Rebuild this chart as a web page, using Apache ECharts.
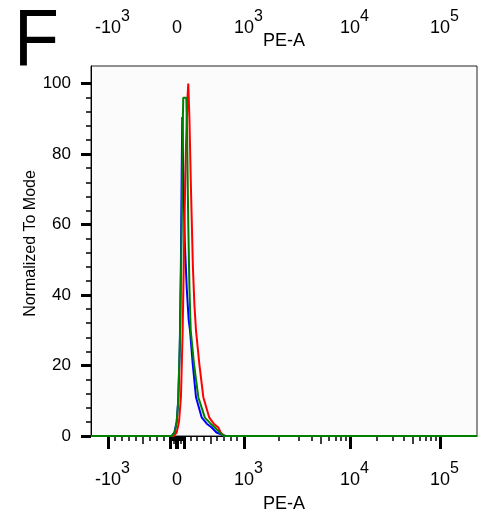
<!DOCTYPE html>
<html>
<head>
<meta charset="utf-8">
<script src="https://cdn.jsdelivr.net/npm/echarts@6/dist/echarts.min.js"></script>
<style>
html,body{margin:0;padding:0;background:#fff;}
#chart{width:478px;height:512px;}
</style>
</head>
<body>
<div id="chart"></div>
<script>
// ---- data (x in display channel units 0..1000 of the biexponential PE-A scale) ----
const blueCh    = [0, 209, 216, 222, 226, 230, 233, 235, 236.5, 239, 243, 248, 253, 256.5, 263.5, 272, 287, 300, 312.7, 325, 340, 350, 1000];
const blueMode  = [0, 0, 1, 4, 10, 25, 50, 75, 90.5, 75, 55, 42, 33, 30, 20.5, 11, 5.2, 3.5, 2.4, 1, 0.3, 0, 0];
const redCh     = [0, 214, 222, 228, 233, 237.5, 242, 246, 250, 252, 255, 259, 264, 268, 272, 280.6, 291, 306.5, 318, 329.8, 336, 345, 1000];
const redMode   = [0, 0, 1, 4, 11, 30, 60, 82, 96, 100, 90, 70, 48, 37, 30, 20.5, 11, 5.2, 3.5, 2.4, 1, 0, 0];
const greenCh   = [0, 209, 217, 222, 226, 231, 235, 238, 239, 247, 249, 252, 255, 258.3, 266.8, 278, 295, 310, 321, 335, 345, 1000];
const greenMode = [0, 0, 1, 4, 10, 30, 60, 90, 96, 96, 85, 60, 42, 30, 20.5, 11, 5.2, 3.5, 2.4, 0.8, 0, 0];

const xTickRaw   = [-1000, 0, 1000, 10000, 100000];
const xTickBase  = ['-10', '0', '10', '10', '10'];
const xTickExp   = ['3', '', '3', '4', '5'];
const yTicks     = [0, 20, 40, 60, 80, 100];
const yMinorTicks = [4, 8, 12, 16, 24, 28, 32, 36, 44, 48, 52, 56, 64, 68, 72, 76, 84, 88, 92, 96];
const axisTitle  = 'PE-A';
const yTitle     = 'Normalized To Mode';
const panelLetter = 'F';

// ---- biexponential display scale: raw PE-A value -> channel units ----
function biex(v) {
  if (v < 0) return 223 + 0.179 * v;
  if (v <= 1000) return 223 + 0.173 * v;
  if (v <= 10000) { const t = Math.log10(v / 1000); return 396 + 314 * t - 39 * t * t; }
  return 671 + 233 * Math.log10(v / 10000);
}

// tick sets
const majorRaw = [-1000, -100, -10, 0, 10, 100, 1000, 10000, 100000];
const midRaw = [], minorRaw = [];
for (const s of [-1, 1]) {
  for (let n = 0; n <= 4; n++) {
    for (let k = 2; k <= 9; k++) {
      const v = s * k * Math.pow(10, n);
      if (v < -1000 || v > 262144) continue;
      if (k === 5) midRaw.push(v); else minorRaw.push(v);
    }
  }
}
const xMajorPos = majorRaw.map(biex);
const xMidPos = midRaw.map(biex);
const xMinorPos = minorRaw.map(biex);
const xLabelPos = xTickRaw.map(biex);

function fmtX(val) {
  let idx = -1, best = 1e9;
  xLabelPos.forEach((p, i) => { const d = Math.abs(p - val); if (d < best) { best = d; idx = i; } });
  if (idx < 0) return '';
  if (!xTickExp[idx]) return '{b|' + xTickBase[idx] + '}';
  return '{sp|}{b|' + xTickBase[idx] + '}{s|' + xTickExp[idx] + '}';
}

const FONT = 'Liberation Sans';
const rich = {
  b: { fontSize: 18, fontFamily: FONT, color: '#000', verticalAlign: 'bottom', lineHeight: 28 },
  s: { fontSize: 16, fontFamily: FONT, color: '#000', verticalAlign: 'top', lineHeight: 28 },
  sp: { width: 9 }
};

const XMIN = 0, XMAX = 1000, YMIN = 0, YMAX = 105;

function baseX(extra) {
  return Object.assign({
    type: 'value', min: XMIN, max: XMAX, position: 'bottom', offset: 0,
    axisLine: { show: false }, splitLine: { show: false },
    axisLabel: { show: false }, axisTick: { show: false }
  }, extra);
}

const option = {
  animation: false,
  backgroundColor: '#fff',
  grid: { left: 91, right: 1, top: 66, bottom: 76, show: true, backgroundColor: '#fbfbfb', borderColor: '#222', borderWidth: 1, containLabel: false, outerBoundsMode: 'none' },
  graphic: [{
    type: 'text', left: 14, top: 3, scaleX: 0.92,
    style: { text: panelLetter, fontSize: 80, fontFamily: FONT, fill: '#000' }
  }],
  xAxis: [
    baseX({
      axisLine: { show: true, lineStyle: { color: '#000', width: 1 } },
      axisTick: { show: true, customValues: xMajorPos, length: 13, lineStyle: { color: '#000', width: 3 } },
      axisLabel: { show: true, customValues: xLabelPos, formatter: fmtX, rich: rich, margin: 25 },
      name: axisTitle, nameLocation: 'middle', nameGap: 59, nameMoveOverlap: false,
      nameTextStyle: { fontSize: 18, fontFamily: FONT, color: '#000' }
    }),
    baseX({ axisTick: { show: true, customValues: xMidPos, length: 8, lineStyle: { color: '#000', width: 1.5 } } }),
    baseX({ axisTick: { show: true, customValues: xMinorPos, length: 5, lineStyle: { color: '#000', width: 1.5 } } }),
    baseX({
      position: 'top',
      axisLabel: { show: true, customValues: xLabelPos, formatter: fmtX, rich: rich, margin: 29 },
      name: axisTitle, nameLocation: 'middle', nameGap: 16, nameMoveOverlap: false,
      nameTextStyle: { fontSize: 18, fontFamily: FONT, color: '#000' }
    })
  ],
  yAxis: [
    {
      type: 'value', min: YMIN, max: YMAX, position: 'left',
      axisLine: { show: true, lineStyle: { color: '#000', width: 1 } },
      axisTick: { show: true, customValues: yTicks, length: 10, lineStyle: { color: '#000', width: 3 } },
      axisLabel: { show: true, customValues: yTicks, margin: 20, fontSize: 17, fontFamily: FONT, color: '#000' },
      splitLine: { show: false },
      name: yTitle, nameLocation: 'middle', nameGap: 52, nameMoveOverlap: false,
      nameTextStyle: { fontSize: 16, fontFamily: FONT, color: '#000', padding: [0, 0, 0, 15] }
    },
    {
      type: 'value', min: YMIN, max: YMAX, position: 'left', offset: 0,
      axisLine: { show: false }, splitLine: { show: false }, axisLabel: { show: false },
      axisTick: { show: true, customValues: yMinorTicks, length: 5, lineStyle: { color: '#000', width: 1.5 } }
    }
  ],
  series: [
    { name: 'blue', type: 'line', symbol: 'none', xAxisIndex: 0, yAxisIndex: 0,
      lineStyle: { color: '#0000ff', width: 2 }, data: blueCh.map((x, i) => [x, blueMode[i]]) },
    { name: 'red', type: 'line', symbol: 'none', xAxisIndex: 0, yAxisIndex: 0,
      lineStyle: { color: '#ff0000', width: 2 }, data: redCh.map((x, i) => [x, redMode[i]]) },
    { name: 'green', type: 'line', symbol: 'none', xAxisIndex: 0, yAxisIndex: 0,
      lineStyle: { color: '#008000', width: 2 }, data: greenCh.map((x, i) => [x, greenMode[i]]) }
  ]
};

const chart = echarts.init(document.getElementById('chart'), null, { renderer: 'canvas' });
chart.setOption(option);
</script>
</body>
</html>
